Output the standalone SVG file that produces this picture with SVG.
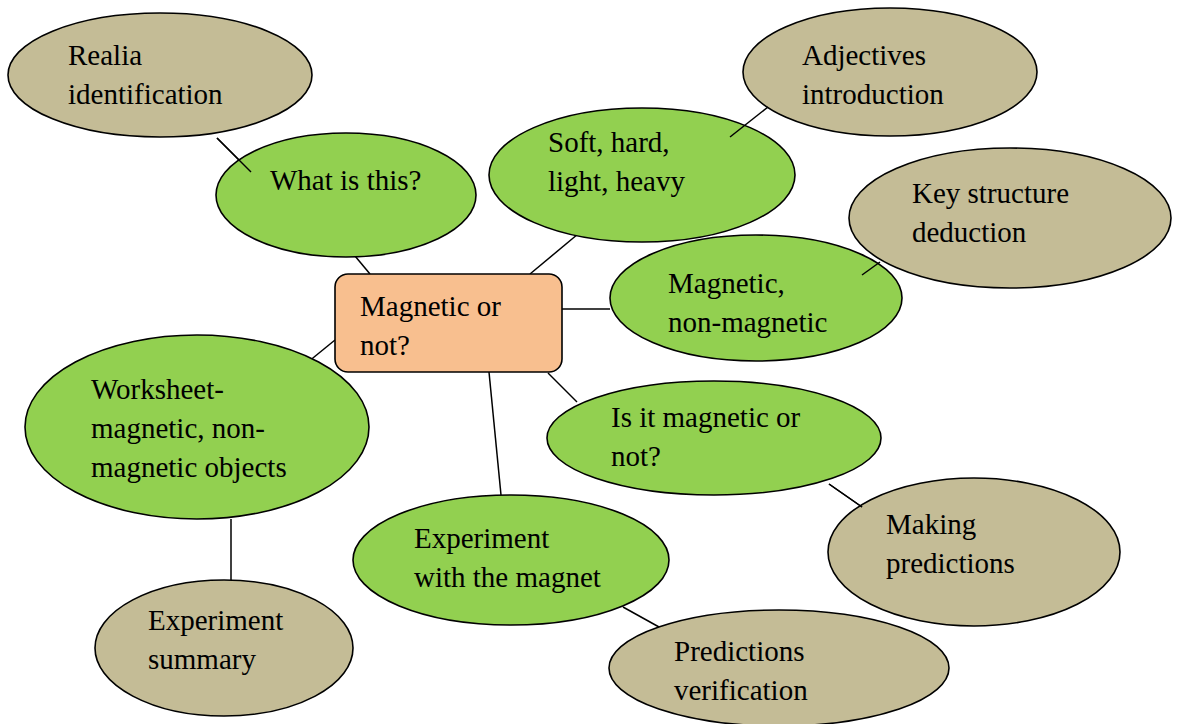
<svg xmlns="http://www.w3.org/2000/svg" width="1179" height="724" viewBox="0 0 1179 724">
<style>
.g{fill:#92D050;stroke:#000;stroke-width:1.6}
.t{fill:#C4BC96;stroke:#000;stroke-width:1.6}
.c{fill:#F8BF8F;stroke:#000;stroke-width:1.6}
.l{stroke:#000;stroke-width:1.5;fill:none}
text{font-family:"Liberation Serif","Times New Roman",serif;font-size:29px;fill:#000}
</style>
<rect width="1179" height="724" fill="#fff"/>
<g id="nodes-back">
<g id="realia"><ellipse class="t" cx="160" cy="75" rx="152" ry="62"/><text x="68" y="65">Realia</text><text x="68" y="104">identification</text></g>
<g id="adjectives"><ellipse class="t" cx="890" cy="72" rx="147" ry="64"/><text x="802" y="65">Adjectives</text><text x="802" y="104">introduction</text></g>
<g id="keystructure"><ellipse class="t" cx="1010" cy="218" rx="161" ry="70"/><text x="912" y="203">Key structure</text><text x="912" y="242">deduction</text></g>
<g id="making"><ellipse class="t" cx="974" cy="552" rx="146" ry="74"/><text x="886" y="534">Making</text><text x="886" y="573">predictions</text></g>
<g id="summary"><ellipse class="t" cx="224" cy="648" rx="129" ry="68"/><text x="148" y="630">Experiment</text><text x="148" y="669">summary</text></g>
<g id="verification"><ellipse class="t" cx="779" cy="668" rx="170" ry="58"/><text x="674" y="661">Predictions</text><text x="674" y="700">verification</text></g>
</g>
<g id="connectors">
<line class="l" x1="217" y1="138" x2="251" y2="172"/>
<line class="l" x1="355" y1="256" x2="370" y2="274"/>
<line class="l" x1="578" y1="234" x2="530" y2="274"/>
<line class="l" x1="562" y1="309" x2="610" y2="309"/>
<line class="l" x1="548" y1="373" x2="577" y2="402"/>
<line class="l" x1="829" y1="484" x2="862" y2="507"/>
<line class="l" x1="489" y1="372" x2="501" y2="495"/>
<line class="l" x1="335" y1="340" x2="308" y2="362"/>
<line class="l" x1="231" y1="519" x2="231" y2="580"/>
<line class="l" x1="623" y1="607" x2="659" y2="627"/>
</g>
<g id="nodes-front">
<g id="whatisthis"><ellipse class="g" cx="346" cy="195" rx="130" ry="62"/><text x="270" y="190">What is this?</text></g>
<g id="soft"><ellipse class="g" cx="642" cy="175" rx="153" ry="67"/><text x="548" y="152">Soft, hard,</text><text x="548" y="191">light, heavy</text></g>
<g id="magnetic"><ellipse class="g" cx="756" cy="298" rx="146" ry="63"/><text x="668" y="293">Magnetic,</text><text x="668" y="332">non-magnetic</text></g>
<g id="isit"><ellipse class="g" cx="714" cy="438" rx="167" ry="57"/><text x="611" y="427">Is it magnetic or</text><text x="611" y="466">not?</text></g>
<g id="worksheet"><ellipse class="g" cx="197" cy="427" rx="172" ry="92"/><text x="91" y="399">Worksheet-</text><text x="91" y="438">magnetic, non-</text><text x="91" y="477">magnetic objects</text></g>
<g id="experiment"><ellipse class="g" cx="511" cy="560" rx="158" ry="65"/><text x="414" y="548">Experiment</text><text x="414" y="587">with the magnet</text></g>
<g id="center"><rect class="c" x="335" y="274" width="227" height="98" rx="13"/><text x="360" y="316">Magnetic or</text><text x="360" y="355">not?</text></g>
</g>
<g id="overlay-connectors">
<line class="l" x1="217" y1="138" x2="251" y2="172"/>
<line class="l" x1="768" y1="107" x2="730" y2="137"/>
<line class="l" x1="880" y1="262" x2="862" y2="275"/>
<line class="l" x1="829" y1="484" x2="862" y2="507"/>
</g>
</svg>
